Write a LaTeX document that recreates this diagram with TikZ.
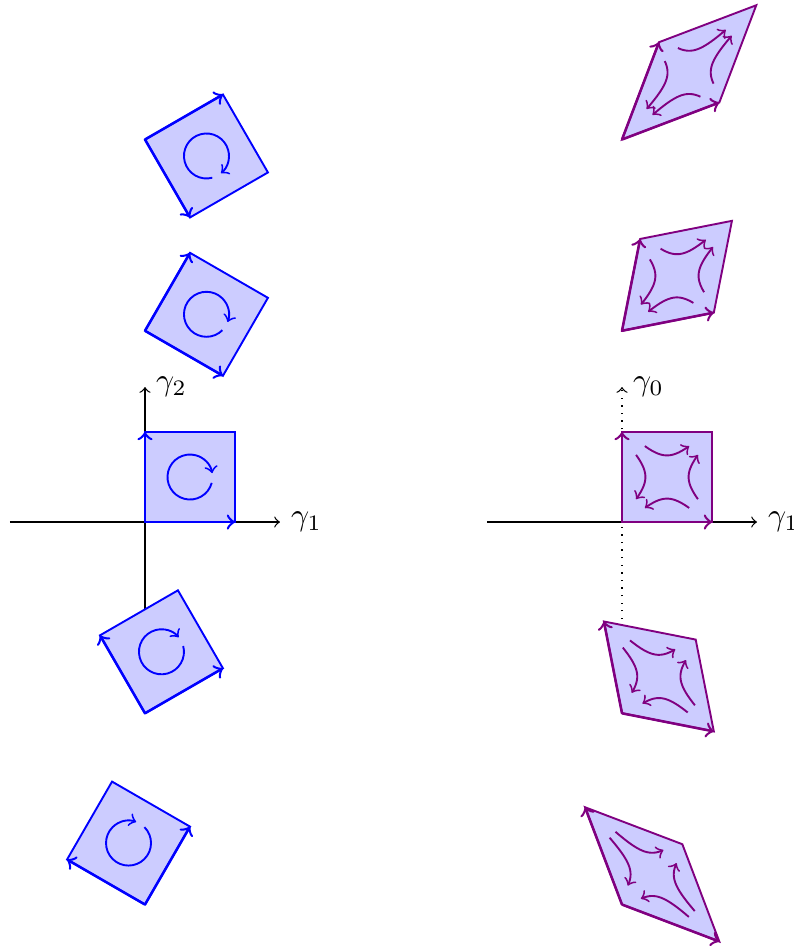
\documentclass[tikz,border=0pt]{standalone}
\tikzset{
  rsq/.style={draw=blue,fill=blue!20,semithick},
  redge/.style={blue,thick,->},
  bsq/.style={draw=violet,fill=blue!20,semithick},
  bedge/.style={violet,thick,->},
  hyp/.style={violet,semithick,->,domain=-0.9:0.9,samples=25,smooth},
  axis/.style={->}
}
\newcommand{\rotsq}{%
  \draw[rsq](0,0)rectangle(1,1);
  \draw[redge](0,0)--(1,0);\draw[redge](0,0)--(0,1);
  \draw[blue,semithick,->](0.5,0.5)++(345:0.25)arc[start angle=345,end angle=10,radius=0.25];}
\newcommand{\boostsq}{%
  \draw[bsq](0,0)rectangle(1,1);
  \draw[bedge](0,0)--(1,0);\draw[bedge](0,0)--(0,1);
  \draw[hyp]plot({0.5+0.24*sinh(\x)},{0.5+0.24*cosh(\x)});
  \draw[hyp]plot({0.5+0.24*cosh(\x)},{0.5+0.24*sinh(\x)});
  \draw[hyp]plot({0.5-0.24*sinh(\x)},{0.5-0.24*cosh(\x)});
  \draw[hyp]plot({0.5-0.24*cosh(\x)},{0.5-0.24*sinh(\x)});}
\begin{document}
\begin{tikzpicture}
\useasboundingbox(-1.611,-4.744)rectangle(7.2,5.8);
\coordinate(lw)at(-1.5,0);\coordinate(le)at(1.5,0);
\coordinate(ls)at(0,-1.5);\coordinate(ln)at(0,1.5);
\draw[axis](lw)--(le);\draw[axis](ls)--(ln);
\node[right](lg1)at(le){$\gamma_1$};
\node[right](lg2)at(ln){$\gamma_2$};
\coordinate(rw)at(3.8,0);\coordinate(re)at(6.8,0);
\coordinate(rs)at(5.3,-1.5);\coordinate(rn)at(5.3,1.5);
\draw[axis](rw)--(re);\draw[axis,dotted](rs)--(rn);
\node[right](rg1)at(re){$\gamma_1$};
\node[right](rg0)at(rn){$\gamma_0$};
\begin{scope}[shift={(0,4.25)},rotate=-60]\rotsq\end{scope}
\begin{scope}[shift={(0,2.125)},rotate=-30]\rotsq\end{scope}
\rotsq
\begin{scope}[shift={(0,-2.125)},rotate=30]\rotsq\end{scope}
\begin{scope}[shift={(0,-4.25)},rotate=60]\rotsq\end{scope}
\begin{scope}[shift={(5.3,4.25)},cm={1.0811,0.4108,0.4108,1.0811,(0,0)}]\boostsq\end{scope}
\begin{scope}[shift={(5.3,2.125)},cm={1.0201,0.2013,0.2013,1.0201,(0,0)}]\boostsq\end{scope}
\begin{scope}[shift={(5.3,0)}]\boostsq\end{scope}
\begin{scope}[shift={(5.3,-2.125)},cm={1.0201,-0.2013,-0.2013,1.0201,(0,0)}]\boostsq\end{scope}
\begin{scope}[shift={(5.3,-4.25)},cm={1.0811,-0.4108,-0.4108,1.0811,(0,0)}]\boostsq\end{scope}
\end{tikzpicture}
\end{document}
